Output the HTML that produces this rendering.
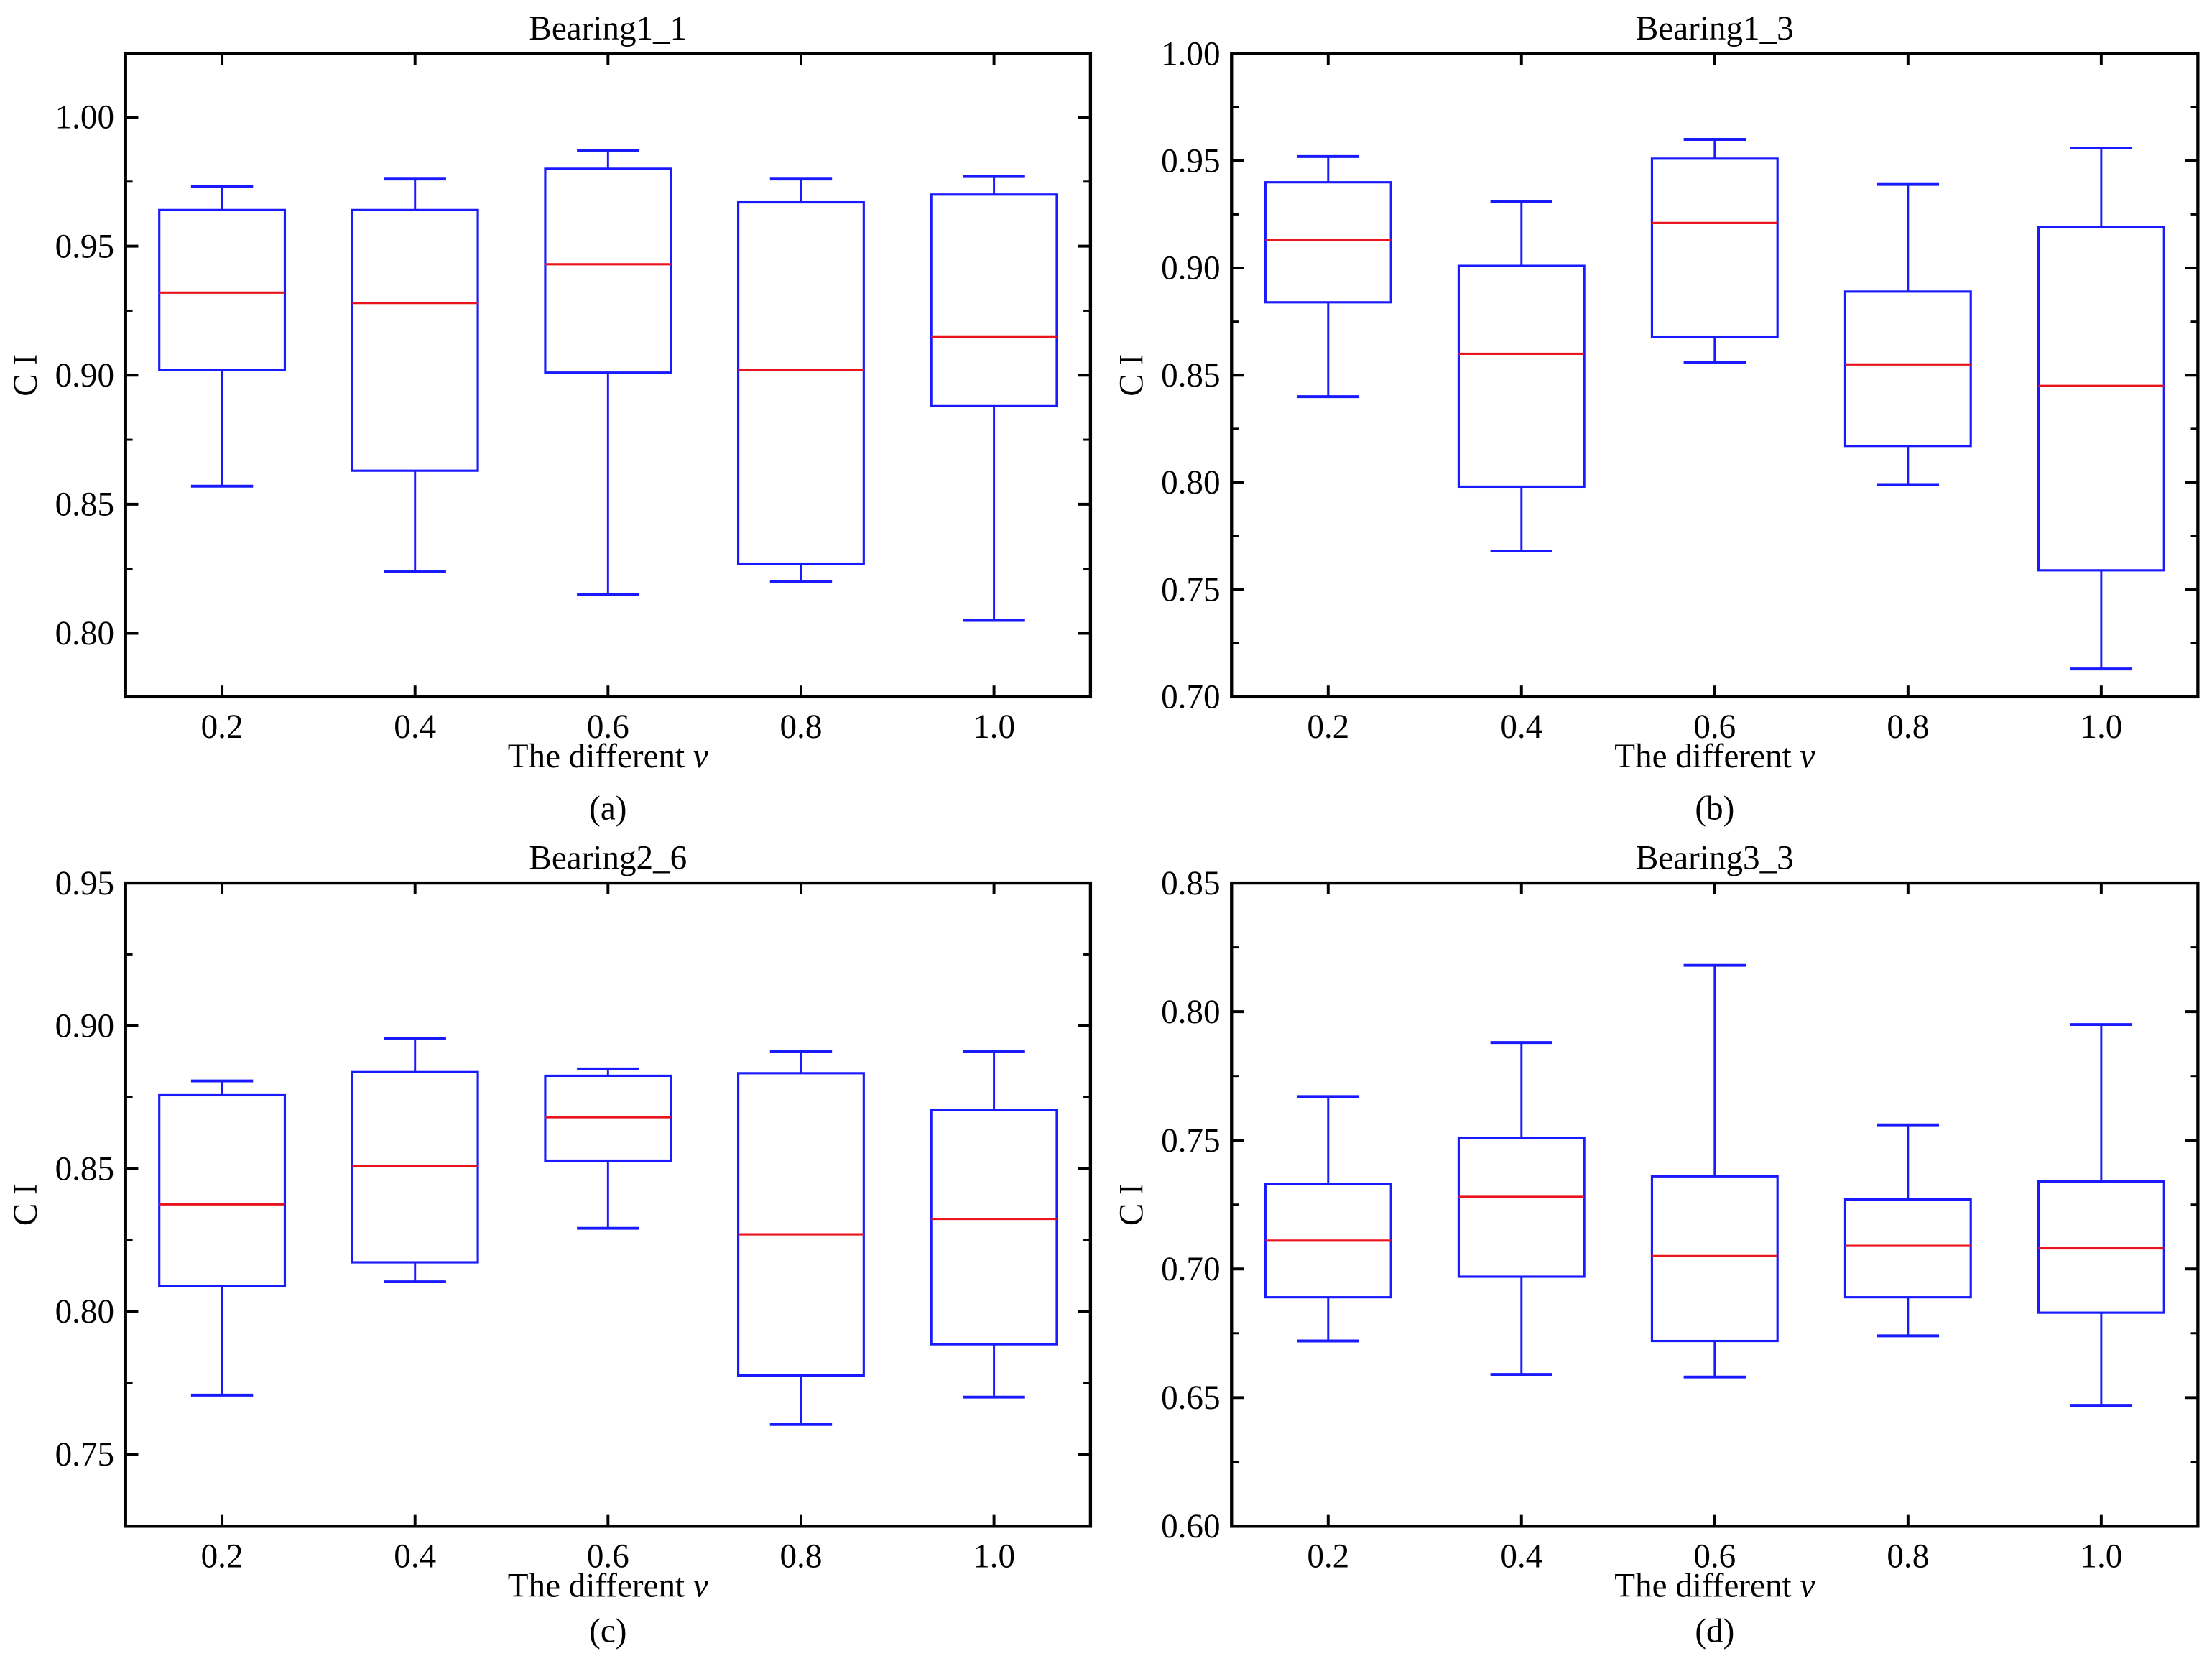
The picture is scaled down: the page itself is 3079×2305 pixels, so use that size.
<!DOCTYPE html>
<html><head><meta charset="utf-8"><style>
html,body{margin:0;padding:0;background:#fff;}
svg{display:block;}
text{font-family:"Liberation Serif","Times New Roman",serif;fill:#000;}
</style></head><body>
<svg id="fig" width="3079" height="2305" viewBox="0 0 1568 1174" preserveAspectRatio="none" xmlns="http://www.w3.org/2000/svg"></svg>
<script>
// ---- data ----
const categories = ["0.2","0.4","0.6","0.8","1.0"];
const titles = ["Bearing1_1","Bearing1_3","Bearing2_6","Bearing3_3"];
const subLabels = ["(a)","(b)","(c)","(d)"];
const lowA = [0.857,0.824,0.815,0.820,0.805];
const q1A  = [0.902,0.863,0.901,0.827,0.888];
const medA = [0.932,0.928,0.943,0.902,0.915];
const q3A  = [0.964,0.964,0.980,0.967,0.970];
const highA= [0.973,0.976,0.987,0.976,0.977];
const lowB = [0.840,0.768,0.856,0.799,0.713];
const q1B  = [0.884,0.798,0.868,0.817,0.759];
const medB = [0.913,0.860,0.921,0.855,0.845];
const q3B  = [0.940,0.901,0.951,0.889,0.919];
const highB= [0.952,0.931,0.960,0.939,0.956];
const lowC = [0.7707,0.8104,0.8291,0.7604,0.7700];
const q1C  = [0.8088,0.8172,0.8528,0.7776,0.7885];
const medC = [0.8375,0.8510,0.8680,0.8270,0.8324];
const q3C  = [0.8757,0.8838,0.8825,0.8834,0.8706];
const highC= [0.8807,0.8956,0.8849,0.8910,0.8910];
const lowD = [0.672,0.659,0.658,0.674,0.647];
const q1D  = [0.689,0.697,0.672,0.689,0.683];
const medD = [0.711,0.728,0.705,0.709,0.708];
const q3D  = [0.733,0.751,0.736,0.727,0.734];
const highD= [0.767,0.788,0.818,0.756,0.795];
const yTicksA = [0.80,0.85,0.90,0.95,1.00];
const yTicksB = [0.70,0.75,0.80,0.85,0.90,0.95,1.00];
const yTicksC = [0.75,0.80,0.85,0.90,0.95];
const yTicksD = [0.60,0.65,0.70,0.75,0.80,0.85];
const yDomA = [0.7754,1.0246];
const yDomB = [0.70,1.00];
const yDomC = [0.7248,0.95];
const yDomD = [0.60,0.85];

const NS="http://www.w3.org/2000/svg";
const svg=document.getElementById('fig');
function mk(tag,attrs,parent){const e=document.createElementNS(NS,tag);for(const k in attrs)e.setAttribute(k,attrs[k]);(parent||svg).appendChild(e);return e;}
const FS=24;

const panels=[
 {x0:89,x1:773,y0:38,y1:494,dom:yDomA,ticks:yTicksA,low:lowA,q1:q1A,med:medA,q3:q3A,high:highA},
 {x0:873,x1:1558,y0:38,y1:494,dom:yDomB,ticks:yTicksB,low:lowB,q1:q1B,med:medB,q3:q3B,high:highB},
 {x0:89,x1:773,y0:626,y1:1082,dom:yDomC,ticks:yTicksC,low:lowC,q1:q1C,med:medC,q3:q3C,high:highC},
 {x0:873,x1:1558,y0:626,y1:1082,dom:yDomD,ticks:yTicksD,low:lowD,q1:q1D,med:medD,q3:q3D,high:highD}
];

panels.forEach((p,pi)=>{
  const g=mk('g',{});
  
  
  const W=p.x1-p.x0;
  const xs=i=>p.x0+W*(0.1+0.2*i);
  const ys=v=>p.y1-(v-p.dom[0])/(p.dom[1]-p.dom[0])*(p.y1-p.y0);
  const cx=(p.x0+p.x1)/2;
  const t=mk('text',{x:cx,y:p.y0-10,'text-anchor':'middle','font-size':FS},g);
  t.textContent=titles[pi];
  
  
  const step=p.ticks[1]-p.ticks[0];
  p.ticks.forEach(v=>{
    const y=ys(v);
    mk('line',{x1:p.x0,x2:p.x0+9,y1:y,y2:y,stroke:'#000','stroke-width':2},g);
    mk('line',{x1:p.x1,x2:p.x1-9,y1:y,y2:y,stroke:'#000','stroke-width':2},g);
    const lb=mk('text',{x:p.x0-8,y:y+8,'text-anchor':'end','font-size':FS},g);
    lb.textContent=v.toFixed(2);
    
    
  });
  for(let v=p.ticks[0]-step/2;v<=p.dom[1]+1e-9;v+=step){
    if(v<p.dom[0]-1e-9)continue;
    const y=ys(v);
    mk('line',{x1:p.x0,x2:p.x0+5,y1:y,y2:y,stroke:'#000','stroke-width':1.5},g);
    mk('line',{x1:p.x1,x2:p.x1-5,y1:y,y2:y,stroke:'#000','stroke-width':1.5},g);
  }
  categories.forEach((c,i)=>{
    const x=xs(i);
    mk('line',{x1:x,x2:x,y1:p.y1,y2:p.y1-8,stroke:'#000','stroke-width':2},g);
    mk('line',{x1:x,x2:x,y1:p.y0,y2:p.y0+8,stroke:'#000','stroke-width':2},g);
    const lb=mk('text',{x:x,y:p.y1+29,'text-anchor':'middle','font-size':FS},g);
    lb.textContent=c;
    
    
  });
  categories.forEach((c,i)=>{
    const x=xs(i),hw=44.5,cw=22;
    const bg=mk('g',{},g);
    
    
    const yl=ys(p.low[i]),y1=ys(p.q1[i]),ym=ys(p.med[i]),y3=ys(p.q3[i]),yh=ys(p.high[i]);
    mk('line',{x1:x,x2:x,y1:yh,y2:y3,stroke:'#1a1aff','stroke-width':1.5},bg);
    mk('line',{x1:x,x2:x,y1:y1,y2:yl,stroke:'#1a1aff','stroke-width':1.5},bg);
    mk('line',{x1:x-cw,x2:x+cw,y1:yh,y2:yh,stroke:'#1a1aff','stroke-width':2},bg);
    mk('line',{x1:x-cw,x2:x+cw,y1:yl,y2:yl,stroke:'#1a1aff','stroke-width':2},bg);
    mk('rect',{x:x-hw,y:y3,width:2*hw,height:y1-y3,fill:'none',stroke:'#1a1aff','stroke-width':1.6},bg);
    mk('line',{x1:x-hw,x2:x+hw,y1:ym,y2:ym,stroke:'#e8141e','stroke-width':1.6},bg);
  });
  mk('rect',{x:p.x0,y:p.y0,width:W,height:p.y1-p.y0,fill:'none',stroke:'#000','stroke-width':2.2},g);
  const xt=mk('text',{x:cx,y:p.y1+50,'text-anchor':'middle','font-size':FS},g);
  xt.innerHTML='The different <tspan font-style="italic">v</tspan>';
  
  
  const my=(p.y0+p.y1)/2;
  const yt=mk('text',{x:my,y:0,'text-anchor':'middle','font-size':FS,transform:`translate(${p.x0-63},${my}) rotate(-90)`},g);
  yt.setAttribute('x',0);
  yt.textContent='C I';
  
  
  const sl=mk('text',{x:cx,y:p.y1+87,'text-anchor':'middle','font-size':FS},g);
  if(pi>=2) sl.setAttribute('y',p.y1+82);
  sl.textContent=subLabels[pi];
  
  
});
</script>
</body></html>
